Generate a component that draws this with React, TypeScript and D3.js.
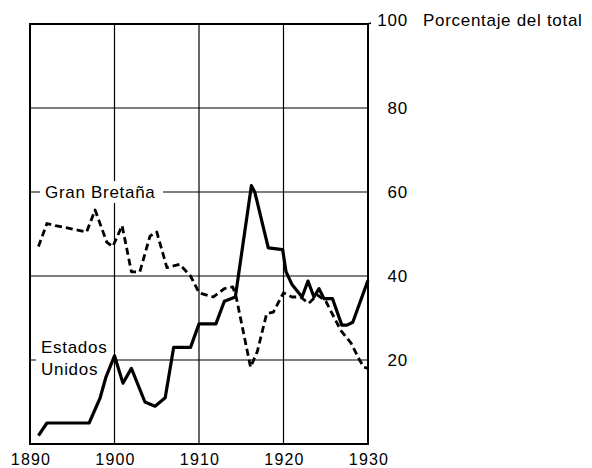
import React from "react";
import * as d3 from "d3";

// Participación en el total (%) — lectura aproximada del gráfico
const usYears = [1891, 1892, 1897, 1898.3, 1899, 1900, 1901, 1902, 1903.6, 1904.8, 1906, 1907, 1909, 1910, 1912, 1913, 1914.3, 1916.2, 1916.6, 1918.2, 1919.9, 1920.3, 1921, 1922.2, 1922.9, 1923.6, 1924.2, 1924.8, 1925.8, 1926.9, 1927.5, 1928.2, 1930];
const usValues = [2, 5, 5, 11, 16, 21, 14.5, 18, 10, 9, 11, 23, 23, 28.6, 28.6, 34, 35, 61.5, 60, 46.7, 46.3, 41, 38, 35, 38.8, 35, 37, 34.6, 34.6, 28.3, 28.3, 29, 39];

const gbYears = [1891, 1892, 1893, 1896.7, 1897.7, 1899.1, 1899.8, 1900.9, 1902, 1903, 1904.2, 1905, 1906.2, 1907.7, 1909, 1910, 1911.7, 1913, 1914, 1914.4, 1916.1, 1916.9, 1918, 1918.8, 1920, 1921, 1922, 1923, 1924, 1925, 1926.8, 1928, 1929, 1929.5, 1930];
const gbValues = [47, 52.5, 52, 50.5, 55.7, 48, 47, 52, 41, 41, 49.5, 50.5, 42, 42.8, 40, 36, 35, 37, 37.4, 35, 18.3, 22, 31, 31.4, 36, 35, 35, 33.5, 35.5, 34, 27, 24, 20, 18.3, 18];

const xTicks = [1890, 1900, 1910, 1920, 1930];
const yTicks = [20, 40, 60, 80, 100];

const W = 592;
const H = 468;
const left = 30;
const right = 368;
const top = 24;
const bottom = 444;
const font = "'Liberation Sans', Arial, sans-serif";

export default function App() {
  const x = d3.scaleLinear().domain([1890, 1930]).range([left, right]);
  const y = d3.scaleLinear().domain([0, 100]).range([bottom, top]);

  const line = d3
    .line<[number, number]>()
    .x((d) => x(d[0]))
    .y((d) => y(d[1]));

  const us = usYears.map((yr, i) => [yr, usValues[i]] as [number, number]);
  const gb = gbYears.map((yr, i) => [yr, gbValues[i]] as [number, number]);

  return (
    <svg width={W} height={H} style={{ position: "absolute", left: 0, top: 0, background: "#fff" }}>
      {/* grid */}
      {xTicks.slice(1, -1).map((t) => (
        <line key={"vx" + t} x1={x(t)} x2={x(t)} y1={top} y2={bottom} stroke="#000" strokeWidth={1.2} />
      ))}
      {yTicks.slice(0, -1).map((t) => (
        <line key={"hy" + t} x1={left} x2={right} y1={y(t)} y2={y(t)} stroke="#000" strokeWidth={1.2} />
      ))}

      {/* label backgrounds cut the grid */}
      <rect x={40} y={y(60) - 11} width={123} height={22} fill="#fff" />
      <rect x={36} y={y(20) - 26} width={76} height={48} fill="#fff" />

      {/* frame */}
      <rect x={left} y={top} width={right - left} height={bottom - top} fill="none" stroke="#000" strokeWidth={2} />
      <line x1={right} x2={right + 3} y1={top} y2={top - 1} stroke="#000" strokeWidth={1.5} />

      {/* series */}
      <path d={line(gb) ?? ""} fill="none" stroke="#000" strokeWidth={2.8} strokeDasharray="7 4" strokeLinejoin="round" />
      <path d={line(us) ?? ""} fill="none" stroke="#000" strokeWidth={3.2} strokeLinejoin="round" />

      {/* x labels */}
      {xTicks.map((t) => (
        <text key={"xt" + t} x={x(t) + 1} y={465} textAnchor="middle" fontFamily={font} fontSize={16} letterSpacing={1.2}>
          {t}
        </text>
      ))}

      {/* y labels on the right */}
      {yTicks.map((t) => (
        <text key={"yt" + t} x={408} y={y(t) + (t === 100 ? -4 : 0)} dy="0.35em" textAnchor="end" fontFamily={font} fontSize={17} letterSpacing={0.8}>
          {t}
        </text>
      ))}
      <text x={423} y={y(100) - 4} dy="0.35em" fontFamily={font} fontSize={17} letterSpacing={0.7}>
        Porcentaje del total
      </text>

      {/* series labels */}
      <text x={45} y={y(60)} dy="0.35em" fontFamily={font} fontSize={17} letterSpacing={0.7}>
        Gran Bretaña
      </text>
      <text x={41} y={347} dy="0.35em" fontFamily={font} fontSize={17} letterSpacing={0.7}>
        Estados
      </text>
      <text x={41} y={369} dy="0.35em" fontFamily={font} fontSize={17} letterSpacing={0.7}>
        Unidos
      </text>
    </svg>
  );
}
